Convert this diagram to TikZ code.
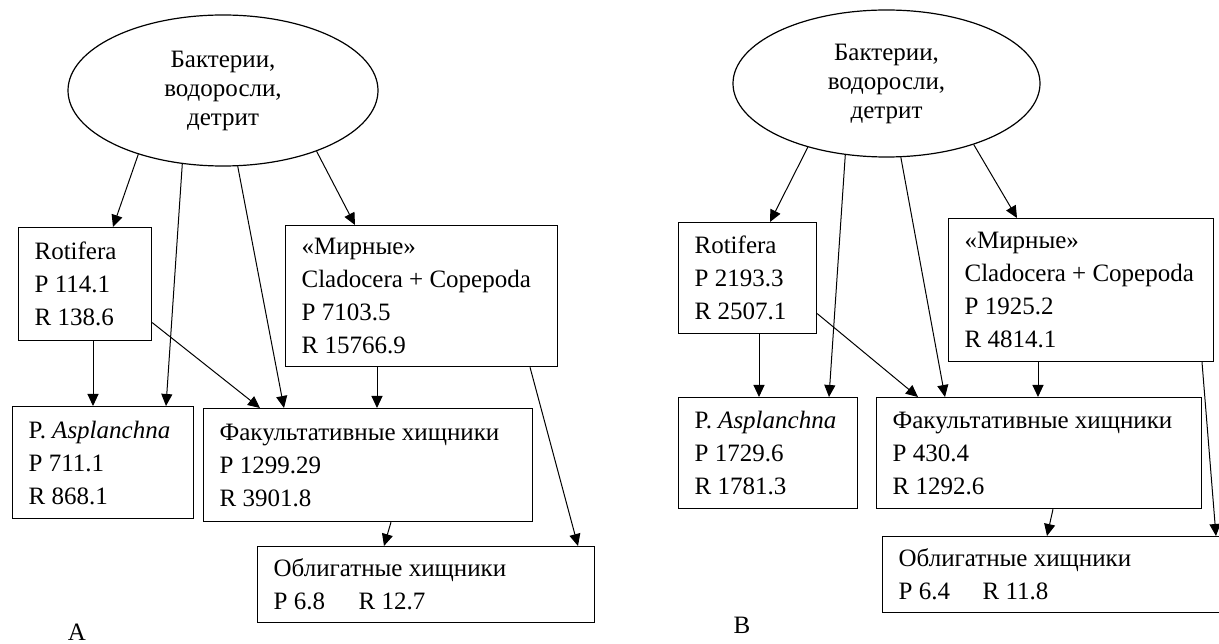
\documentclass[tikz,border=0pt]{standalone}
\usepackage{fontspec}
\setmainfont{Liberation Serif}
\usetikzlibrary{arrows.meta,shapes.geometric}
\begin{document}
\begin{tikzpicture}[x=1pt,y=-1pt,
  every node/.style={font=\fontsize{25}{33}\selectfont},
  box/.style={draw, line width=1.2pt, rectangle, anchor=north west, align=left, inner xsep=16pt, inner ysep=0pt,
    execute at begin node={\spaceskip=0pt\xspaceskip=0pt\hyphenpenalty=10000\exhyphenpenalty=10000\relax}},
  oval/.style={draw, line width=1.2pt, ellipse, inner sep=0pt, align=center, font=\fontsize{25}{29}\selectfont},
  arr/.style={-{Triangle[length=12pt,width=11pt]}, line width=1pt},
  lbl/.style={inner sep=0pt}]
\useasboundingbox (0,0) rectangle (1219,644);

% ---------------- Panel A ----------------
\node[oval, minimum width=310pt, minimum height=151pt] (eA) at (223,90.5) {Бактерии,\\водоросли,\\детрит};
\node[box, minimum width=133pt, minimum height=113pt, text width=101pt] (rotA) at (18,227) {Rotifera\\P 114.1\\R 138.6};
\node[box, minimum width=272pt, minimum height=141pt, text width=240pt] (mirA) at (285,225) {«Мирные»\\Cladocera + Copepoda\\P 7103.5\\R 15766.9};
\node[box, minimum width=181pt, minimum height=112pt, text width=149pt] (aspA) at (12,406) {P. \textit{Asplanchna}\\P 711.1\\R 868.1};
\node[box, minimum width=329pt, minimum height=113pt, text width=297pt] (fakA) at (203,408) {Факультативные хищники\\P 1299.29\\R 3901.8};
\node[box, minimum width=337pt, minimum height=76pt, text width=305pt] (oblA) at (257,546) {Облигатные хищники\\\makebox[85pt][l]{P 6.8}R 12.7};
\node[lbl] (labA) at (77,632) {A};

\draw[arr] (eA.-143.6) -- ([xshift=95pt]rotA.north west);
\draw[arr] (eA.-119.1) -- ([xshift=154pt]aspA.north west);
\draw[arr] (eA.-79.6) -- ([xshift=81pt]fakA.north west);
\draw[arr] (eA.-33.8) -- ([xshift=70pt]mirA.north west);
\draw[arr] ([xshift=75pt]rotA.south west) -- ([xshift=81pt]aspA.north west);
\draw[arr] ([yshift=-38.5pt]rotA.east) -- ([xshift=57pt]fakA.north west);
\draw[arr] ([xshift=92pt]mirA.south west) -- ([xshift=174pt]fakA.north west);
\draw[arr] ([xshift=245pt]mirA.south west) -- ([xshift=321pt]oblA.north west);
\draw[arr] ([xshift=188pt]fakA.south west) -- ([xshift=127pt]oblA.north west);

% ---------------- Panel B ----------------
\node[oval, minimum width=307pt, minimum height=147pt] (eB) at (886.5,83.5) {Бактерии,\\водоросли,\\детрит};
\node[box, minimum width=138pt, minimum height=111pt, text width=106pt] (rotB) at (678,222) {Rotifera\\P 2193.3\\R 2507.1};
\node[box, minimum width=265pt, minimum height=143pt, text width=233pt] (mirB) at (948,218) {«Мирные»\\Cladocera + Copepoda\\P 1925.2\\R 4814.1};
\node[box, minimum width=179pt, minimum height=111pt, text width=147pt] (aspB) at (678,397) {P. \textit{Asplanchna}\\P 1729.6\\R 1781.3};
\node[box, minimum width=325pt, minimum height=111pt, text width=293pt] (fakB) at (876,397) {Факультативные хищники\\P 430.4\\R 1292.6};
\node[box, minimum width=400pt, minimum height=76pt, text width=368pt] (oblB) at (882,536) {Облигатные хищники\\\makebox[84pt][l]{P 6.4}R 11.8};
\node[lbl] (labB) at (742,625) {B};

\draw[arr] (eB.-141.8) -- ([xshift=92pt]rotB.north west);
\draw[arr] (eB.-120.6) -- ([xshift=151pt]aspB.north west);
\draw[arr] (eB.-79.6) -- ([xshift=69pt]fakB.north west);
\draw[arr] (eB.-35.1) -- ([xshift=69pt]mirB.north west);
\draw[arr] ([xshift=81pt]rotB.south west) -- ([xshift=81pt]aspB.north west);
\draw[arr] ([yshift=-35.5pt]rotB.east) -- ([xshift=42pt]fakB.north west);
\draw[arr] ([xshift=90pt]mirB.south west) -- ([xshift=162pt]fakB.north west);
\draw[arr] ([xshift=254pt]mirB.south west) -- ([xshift=334pt]oblB.north west);
\draw[arr] ([xshift=177pt]fakB.south west) -- ([xshift=165pt]oblB.north west);
\end{tikzpicture}
\end{document}
